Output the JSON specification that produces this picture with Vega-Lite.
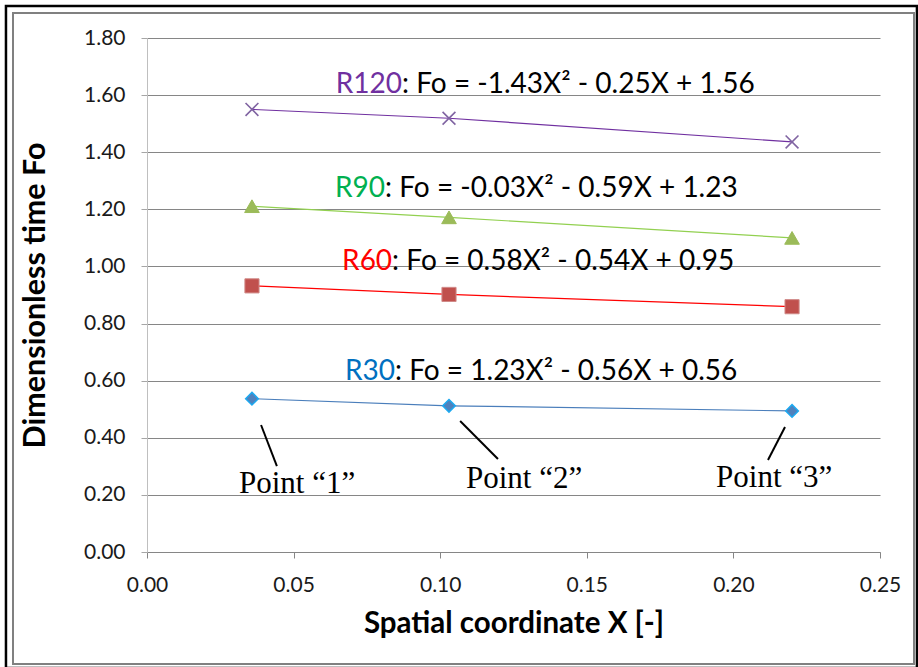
{
  "$schema": "https://vega.github.io/schema/vega-lite/v6.json",
  "width": 733,
  "height": 514,
  "autosize": {"type": "none"},
  "padding": {"left": 147, "top": 38, "right": 38, "bottom": 115},
  "background": "white",
  "config": {"view": {"stroke": null}, "font": "Lato"},
  "datasets": {
    "points": [
      {"series": "R120", "x": 0.0358, "fo": 1.550},
      {"series": "R120", "x": 0.1030, "fo": 1.519},
      {"series": "R120", "x": 0.2200, "fo": 1.436},
      {"series": "R90", "x": 0.0358, "fo": 1.211},
      {"series": "R90", "x": 0.1030, "fo": 1.172},
      {"series": "R90", "x": 0.2200, "fo": 1.100},
      {"series": "R60", "x": 0.0358, "fo": 0.932},
      {"series": "R60", "x": 0.1030, "fo": 0.902},
      {"series": "R60", "x": 0.2200, "fo": 0.859},
      {"series": "R30", "x": 0.0358, "fo": 0.537},
      {"series": "R30", "x": 0.1030, "fo": 0.512},
      {"series": "R30", "x": 0.2200, "fo": 0.494}
    ],
    "frames": [
      {"frame": "outer", "x1": -0.0481, "x2": 0.2626, "y1": -0.406, "y2": 1.912},
      {"frame": "inner", "x1": -0.0457, "x2": 0.2616, "y1": -0.3922, "y2": 1.8876}
    ],
    "equations": [
      {"series": "R120", "prefix": "R120", "rest": ": Fo = -1.43X² - 0.25X + 1.56", "x": 0.0870, "y": 1.609},
      {"series": "R90", "prefix": "R90", "rest": ": Fo = -0.03X² - 0.59X + 1.23", "x": 0.0812, "y": 1.243},
      {"series": "R60", "prefix": "R60", "rest": ": Fo = 0.58X² - 0.54X + 0.95", "x": 0.0836, "y": 0.986},
      {"series": "R30", "prefix": "R30", "rest": ": Fo = 1.23X² - 0.56X + 0.56", "x": 0.0846, "y": 0.603}
    ],
    "leaders": [
      {"p": "1", "x1": 0.0389, "y1": 0.4447, "x2": 0.0443, "y2": 0.301},
      {"p": "2", "x1": 0.1068, "y1": 0.4587, "x2": 0.1197, "y2": 0.3257},
      {"p": "3", "x1": 0.2176, "y1": 0.4377, "x2": 0.2118, "y2": 0.3222}
    ],
    "pointLabels": [
      {"label": "Point “1”", "x": 0.0512, "y": 0.2066},
      {"label": "Point “2”", "x": 0.1286, "y": 0.2241},
      {"label": "Point “3”", "x": 0.2139, "y": 0.2276}
    ]
  },
  "layer": [
    {
      "data": {"name": "frames"},
      "mark": {"type": "rect", "filled": false, "clip": false},
      "encoding": {
        "x": {"field": "x1", "type": "quantitative", "scale": {"domain": [0, 0.25], "nice": false, "zero": false},
          "axis": {
            "title": "Spatial coordinate X [-]",
            "values": [0, 0.05, 0.1, 0.15, 0.2, 0.25],
            "format": ".2f",
            "grid": false,
            "labelFlush": false,
            "domainColor": "#868686",
            "tickColor": "#868686",
            "tickSize": 6,
            "labelFont": "Lato",
            "labelFontSize": 21,
            "labelColor": "#1a1a1a",
            "labelPadding": 16,
            "titleFont": "Lato",
            "titleFontSize": 29.5,
            "titleFontWeight": "bold",
            "titleColor": "#000000",
            "titlePadding": 14
          }},
        "x2": {"field": "x2"},
        "y": {"field": "y1", "type": "quantitative", "scale": {"domain": [0, 1.8], "nice": false, "zero": false},
          "axis": {
            "title": "Dimensionless time Fo",
            "values": [0, 0.2, 0.4, 0.6, 0.8, 1.0, 1.2, 1.4, 1.6, 1.8],
            "format": ".2f",
            "grid": true,
            "labelFlush": false,
            "gridColor": "#868686",
            "gridWidth": 1,
            "domainColor": "#BFBFBF",
            "tickColor": "#A6A6A6",
            "tickSize": 6,
            "labelFont": "Lato",
            "labelFontSize": 21,
            "labelColor": "#1a1a1a",
            "labelPadding": 16,
            "titleFont": "Lato",
            "titleFontSize": 30.5,
            "titleFontWeight": "bold",
            "titleColor": "#000000",
            "titlePadding": 33
          }},
        "y2": {"field": "y2"},
        "stroke": {"field": "frame", "type": "nominal", "scale": {"domain": ["outer", "inner"], "range": ["#000000", "#808080"]}, "legend": null},
        "strokeWidth": {"field": "frame", "type": "nominal", "scale": {"domain": ["outer", "inner"], "range": [2.5, 2]}, "legend": null}
      }
    },
    {
      "data": {"name": "points"},
      "mark": {"type": "line", "strokeWidth": 1.2},
      "encoding": {
        "x": {"field": "x", "type": "quantitative", "scale": {"domain": [0, 0.25]}},
        "y": {"field": "fo", "type": "quantitative", "scale": {"domain": [0, 1.8]}},
        "color": {"field": "series", "type": "nominal", "scale": {"domain": ["R120", "R90", "R60", "R30"], "range": ["#7030A0", "#92D050", "#FF0000", "#4A7EBB"]}, "legend": null}
      }
    },
    {
      "data": {"name": "points"},
      "transform": [{"filter": "datum.series === 'R120'"}],
      "mark": {"type": "point", "shape": "M-1,-1L1,1M-1,1L1,-1", "filled": false, "stroke": "#8064A2", "strokeWidth": 1.6, "size": 165, "opacity": 1},
      "encoding": {
        "x": {"field": "x", "type": "quantitative", "scale": {"domain": [0, 0.25]}},
        "y": {"field": "fo", "type": "quantitative", "scale": {"domain": [0, 1.8]}}
      }
    },
    {
      "data": {"name": "points"},
      "transform": [{"filter": "datum.series === 'R90'"}],
      "mark": {"type": "point", "shape": "triangle-up", "filled": true, "fill": "#9BBB59", "stroke": "#9BBB59", "strokeWidth": 1, "size": 215, "opacity": 1},
      "encoding": {
        "x": {"field": "x", "type": "quantitative", "scale": {"domain": [0, 0.25]}},
        "y": {"field": "fo", "type": "quantitative", "scale": {"domain": [0, 1.8]}}
      }
    },
    {
      "data": {"name": "points"},
      "transform": [{"filter": "datum.series === 'R60'"}],
      "mark": {"type": "point", "shape": "square", "filled": true, "fill": "#C0504D", "stroke": "#D08A88", "strokeWidth": 1, "size": 200, "opacity": 1},
      "encoding": {
        "x": {"field": "x", "type": "quantitative", "scale": {"domain": [0, 0.25]}},
        "y": {"field": "fo", "type": "quantitative", "scale": {"domain": [0, 1.8]}}
      }
    },
    {
      "data": {"name": "points"},
      "transform": [{"filter": "datum.series === 'R30'"}],
      "mark": {"type": "point", "shape": "diamond", "filled": true, "fill": "#4F81BD", "stroke": "#1CA9F0", "strokeWidth": 1.5, "size": 160, "opacity": 1},
      "encoding": {
        "x": {"field": "x", "type": "quantitative", "scale": {"domain": [0, 0.25]}},
        "y": {"field": "fo", "type": "quantitative", "scale": {"domain": [0, 1.8]}}
      }
    },
    {
      "data": {"name": "equations"},
      "mark": {"type": "text", "align": "right", "baseline": "alphabetic", "font": "Lato", "fontSize": 28},
      "encoding": {
        "x": {"field": "x", "type": "quantitative", "scale": {"domain": [0, 0.25]}},
        "y": {"field": "y", "type": "quantitative", "scale": {"domain": [0, 1.8]}},
        "text": {"field": "prefix"},
        "fill": {"field": "series", "type": "nominal", "scale": {"domain": ["R120", "R90", "R60", "R30"], "range": ["#7030A0", "#00B050", "#FF0000", "#0070C0"]}, "legend": null}
      }
    },
    {
      "data": {"name": "equations"},
      "mark": {"type": "text", "align": "left", "baseline": "alphabetic", "font": "Lato", "fontSize": 28, "color": "#000000"},
      "encoding": {
        "x": {"field": "x", "type": "quantitative", "scale": {"domain": [0, 0.25]}},
        "y": {"field": "y", "type": "quantitative", "scale": {"domain": [0, 1.8]}},
        "text": {"field": "rest"}
      }
    },
    {
      "data": {"name": "leaders"},
      "mark": {"type": "rule", "color": "#000000", "strokeWidth": 2},
      "encoding": {
        "x": {"field": "x1", "type": "quantitative", "scale": {"domain": [0, 0.25]}},
        "y": {"field": "y1", "type": "quantitative", "scale": {"domain": [0, 1.8]}},
        "x2": {"field": "x2"},
        "y2": {"field": "y2"}
      }
    },
    {
      "data": {"name": "pointLabels"},
      "mark": {"type": "text", "align": "center", "baseline": "alphabetic", "font": "Liberation Serif", "fontSize": 31, "color": "#000000"},
      "encoding": {
        "x": {"field": "x", "type": "quantitative", "scale": {"domain": [0, 0.25]}},
        "y": {"field": "y", "type": "quantitative", "scale": {"domain": [0, 1.8]}},
        "text": {"field": "label"}
      }
    }
  ]
}
